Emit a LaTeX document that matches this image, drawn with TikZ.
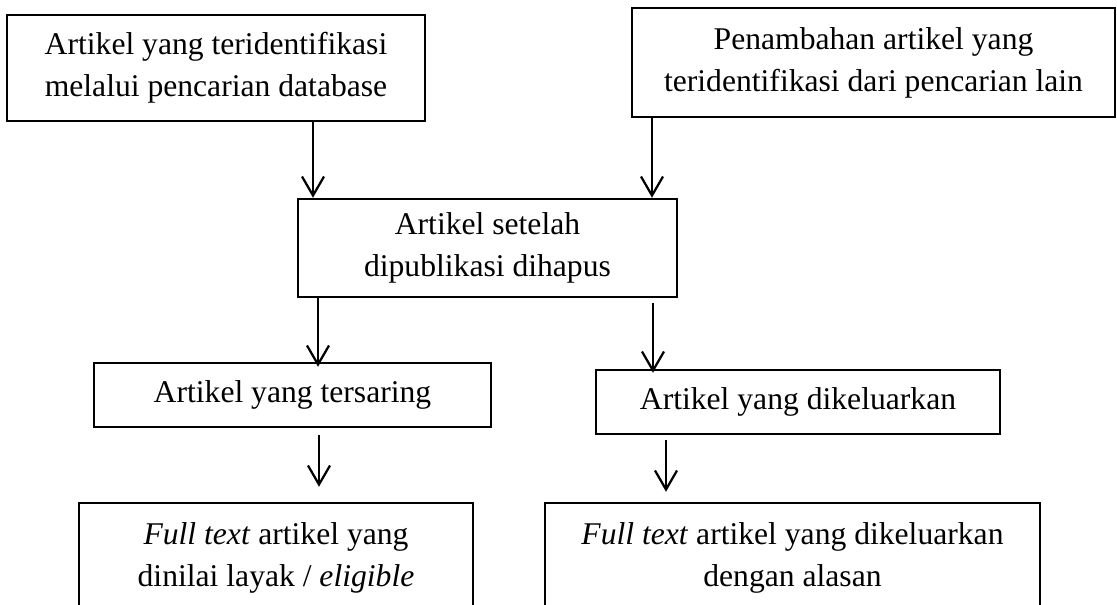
\documentclass[tikz,border=0pt]{standalone}
\usepackage{fontspec}
\setmainfont{Liberation Serif}
\usetikzlibrary{arrows.meta}

\begin{document}
\begin{tikzpicture}[
                x=0.02cm, y=-0.02cm,
                flowbox/.style = {rectangle, draw, line width=0.05cm, inner sep=0pt, align=center,
                        font=\fontsize{18pt}{23.9pt}\selectfont},
                flowarrow/.style = {line width=0.045cm, -{Straight Barb[length=0.38cm, width=0.44cm, line width=0.045cm]}}
        ]
        \useasboundingbox (0,0) rectangle (1117,605);
        \node[flowbox, minimum width=8.36cm, minimum height=2.12cm] (database) at (216,68) {Artikel yang teridentifikasi\\melalui pencarian database};
        \node[flowbox, minimum width=9.66cm, minimum height=2.18cm] (other) at (873.5,62.5) {Penambahan artikel yang\\teridentifikasi dari pencarian lain};
        \node[flowbox, minimum width=7.58cm, minimum height=1.96cm] (dedup) at (487.5,248) {Artikel setelah\\dipublikasi dihapus};
        \node[flowbox, minimum width=7.94cm, minimum height=1.28cm] (screened) at (292.5,395) {Artikel yang tersaring};
        \node[flowbox, minimum width=8.08cm, minimum height=1.28cm] (excluded) at (798,402) {Artikel yang dikeluarkan};
        \node[flowbox, minimum width=7.88cm, minimum height=2.18cm] (eligible) at (276,557.5) {\textit{Full text} artikel yang\\dinilai layak / \textit{eligible}};
        \node[flowbox, minimum width=9.9cm, minimum height=2.18cm] (reasons) at (792.5,557.5) {\textit{Full text} artikel yang dikeluarkan\\dengan alasan};

        \draw[flowarrow] (database.south -| 313,0) -- (dedup.north -| 313,0);
        \draw[flowarrow] (other.south -| 652,0) -- (dedup.north -| 652,0);
        \draw[flowarrow, shorten >=-0.1cm] (dedup.south -| 318,0) -- (screened.north -| 318,0);
        \draw[flowarrow, shorten <=0.1cm, shorten >=-0.08cm] (dedup.south -| 653,0) -- (excluded.north -| 653,0);
        \draw[flowarrow, shorten <=0.14cm, shorten >=0.3cm] (screened.south -| 319,0) -- (eligible.north -| 319,0);
        \draw[flowarrow, shorten <=0.1cm, shorten >=0.2cm] (excluded.south -| 666,0) -- (reasons.north -| 666,0);
\end{tikzpicture}
\end{document}
